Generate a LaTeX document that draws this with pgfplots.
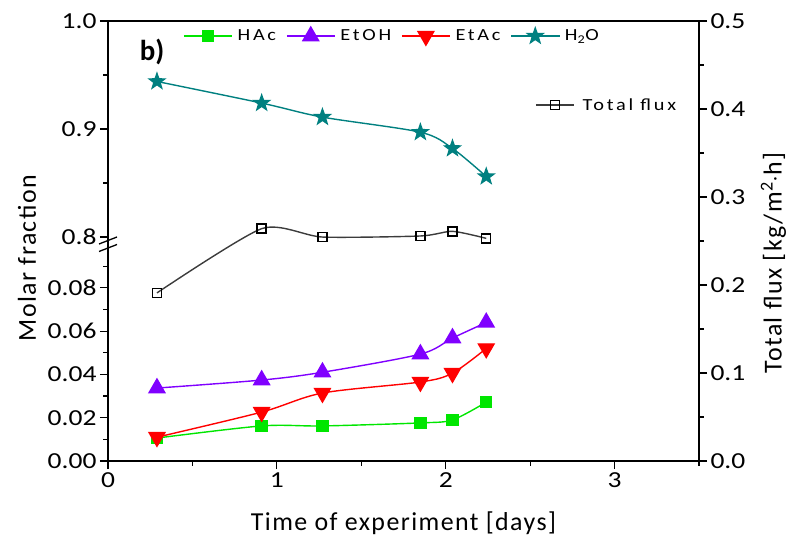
\documentclass[border=0pt]{standalone}
\usepackage{fontspec}
\setmainfont{Carlito}
\newfontfamily\tickfont[FakeStretch=1.2]{Carlito}
\newfontfamily\legfont[FakeStretch=1.2,LetterSpace=16]{Carlito}
\newfontfamily\labfont[LetterSpace=5.5]{Carlito}
\usepackage{pgfplots}
\usepackage{pgfplotstable}
\pgfplotsset{compat=1.18}

\definecolor{cHAc}{RGB}{0,230,0}
\definecolor{cEtOH}{RGB}{128,0,255}
\definecolor{cEtAc}{RGB}{255,0,0}
\definecolor{cH2O}{RGB}{0,128,128}
\definecolor{cTF}{RGB}{60,60,60}

\pgfdeclareplotmark{fstar}{%
 \pgfpathmoveto{\pgfpointpolar{90}{\pgfplotmarksize}}%
 \pgfpathlineto{\pgfpointpolar{126}{0.4\pgfplotmarksize}}%
 \pgfpathlineto{\pgfpointpolar{162}{\pgfplotmarksize}}%
 \pgfpathlineto{\pgfpointpolar{198}{0.4\pgfplotmarksize}}%
 \pgfpathlineto{\pgfpointpolar{234}{\pgfplotmarksize}}%
 \pgfpathlineto{\pgfpointpolar{270}{0.4\pgfplotmarksize}}%
 \pgfpathlineto{\pgfpointpolar{306}{\pgfplotmarksize}}%
 \pgfpathlineto{\pgfpointpolar{342}{0.4\pgfplotmarksize}}%
 \pgfpathlineto{\pgfpointpolar{18}{\pgfplotmarksize}}%
 \pgfpathlineto{\pgfpointpolar{54}{0.4\pgfplotmarksize}}%
 \pgfpathclose
 \pgfusepathqfillstroke
}

\pgfplotstableread{
x    HAc    EtOH   EtAc   H2O    flux
0.29 0.0106 0.0337 0.0110 0.944  0.191
0.91 0.0162 0.0374 0.0226 0.924  0.264
1.27 0.0162 0.0410 0.0314 0.911  0.2545
1.85 0.0176 0.0494 0.0365 0.897  0.2557
2.04 0.0190 0.0568 0.0406 0.882  0.261
2.24 0.0272 0.0640 0.0520 0.856  0.253
}\datatable

\pgfplotsset{
 base/.style={scale only axis, width=591bp, xmin=0, xmax=3.5,
   tick align=outside, major tick length=8bp, minor tick length=4.5bp,
   every tick/.style={black, line width=1.2bp},
   axis line style={line width=1.5bp},
   tick label style={font=\tickfont\fontsize{23}{26}\selectfont},
   /pgf/number format/assume math mode=true,
   clip=false},
 longleg/.style={legend image code/.code={\draw[mark repeat=2,mark phase=2,##1] plot coordinates {(0bp,0bp)(24bp,0bp)(48bp,0bp)};}},
 shortleg/.style={legend image code/.code={\draw[mark repeat=2,mark phase=2,##1] plot coordinates {(0bp,0bp)(19bp,0bp)(38bp,0bp)};}},
 hac/.style={color=cHAc, line width=1.4bp, smooth, mark=square*, mark size=5.5bp, mark options={solid}, longleg},
 etoh/.style={color=cEtOH, line width=1.4bp, smooth, mark=triangle*, mark size=9bp, mark options={solid}, longleg},
 etac/.style={color=cEtAc, line width=1.4bp, smooth, mark=triangle*, mark size=9bp, mark options={solid,rotate=180}, longleg},
 htwoo/.style={color=cH2O, line width=1.4bp, smooth, mark=fstar, mark size=8bp, mark options={solid}, longleg},
 tflux/.style={color=cTF, line width=1.4bp, smooth, tension=0.4, mark=square, mark size=4.5bp, mark options={solid,draw=black,fill=white,line width=1.5bp}, shortleg},
}

\begin{document}
\begin{tikzpicture}
\useasboundingbox (-108bp,-81bp) rectangle (679bp,461bp);
% lower left axis
\begin{axis}[base, at={(0,0)}, anchor=south west, height=224bp,
  ymin=0, ymax=0.1035,
  axis x line*=bottom, axis y line*=left,
  xtick={0,1,2,3}, minor xtick={0.5,1.5,2.5,3.5},
  ytick={0,0.02,0.04,0.06,0.08}, minor ytick={0.01,0.03,0.05,0.07,0.09},
  yticklabel style={/pgf/number format/.cd,fixed,fixed zerofill,precision=2},
  xlabel={Time of experiment [days]},
  xlabel style={font=\labfont\fontsize{26}{30}\selectfont, at={(axis description cs:0.5,-0.277)}, anchor=center},
]
\addplot[hac] table[x=x,y=HAc]{\datatable};
\addplot[etoh] table[x=x,y=EtOH]{\datatable};
\addplot[etac] table[x=x,y=EtAc]{\datatable};
\end{axis}
% upper left axis
\begin{axis}[base, at={(0,224bp)}, anchor=south west, height=216bp,
  ymin=0.8, ymax=1.0,
  axis x line*=top, axis y line*=left, xtick=\empty,
  ytick={0.8,0.9,1.0}, minor ytick={0.85,0.95},
  yticklabel style={/pgf/number format/.cd,fixed,fixed zerofill,precision=1},
  legend columns=4,
  legend style={draw=none, fill=none, inner sep=0pt, at={(axis description cs:0.127,0.93)}, anchor=west,
    font=\legfont\fontsize{17}{20}\selectfont,
    /tikz/every odd column/.append style={column sep=3bp},
    /tikz/every even column/.append style={column sep=8bp}},
]
\addlegendimage{hac}\addlegendentry{HAc}
\addlegendimage{etoh}\addlegendentry{EtOH}
\addlegendimage{etac}\addlegendentry{EtAc}
\addplot[htwoo] table[x=x,y=H2O]{\datatable};
\addlegendentry{H\textsubscript{2}O}
\node[font=\bfseries\fontsize{29}{32}\selectfont] at (axis description cs:0.0745,0.857) {b)};
\end{axis}
% right axis: total flux
\begin{axis}[base, at={(0,0)}, anchor=south west, height=440bp,
  ymin=0, ymax=0.5,
  axis x line=none, axis y line*=right,
  ytick={0,0.1,0.2,0.3,0.4,0.5}, minor ytick={0.05,0.15,0.25,0.35,0.45},
  yticklabel style={/pgf/number format/.cd,fixed,fixed zerofill,precision=1},
  legend style={draw=none, fill=none, inner sep=0pt, at={(axis description cs:0.7225,0.809)}, anchor=west,
    font=\legfont\fontsize{17}{20}\selectfont,
    /tikz/every odd column/.append style={column sep=6bp}},
]
\addplot[tflux] table[x=x,y=flux]{\datatable};
\addlegendentry{Total flux}
\node[rotate=90, font=\labfont\fontsize{26}{30}\selectfont] at (axis description cs:-0.137,0.461) {Molar fraction};
\node[rotate=90, font=\labfont\fontsize{26}{30}\selectfont] at (axis description cs:1.126,0.45) {Total flux [kg/m\textsuperscript{2}$\cdot$h]};
\end{axis}
% axis break marks
\draw[line width=1.3bp] (-9bp,217bp) -- (9bp,224bp);
\draw[line width=1.3bp] (-9bp,209.5bp) -- (9bp,216.5bp);
\end{tikzpicture}
\end{document}
